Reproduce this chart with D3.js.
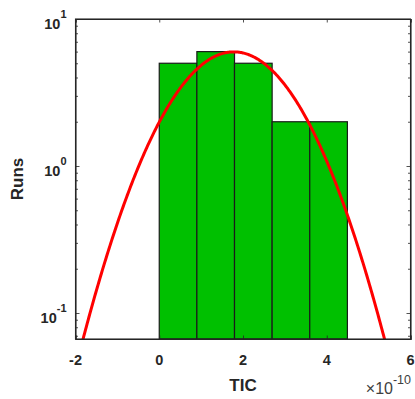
<!DOCTYPE html>
<html>
<head>
<meta charset="utf-8">
<script src="https://cdn.jsdelivr.net/npm/d3@7"></script>
<style>
  html, body { margin: 0; padding: 0; background: #ffffff; }
  svg { display: block; }
  text { font-family: "Liberation Sans", Arial, Helvetica, sans-serif; }
</style>
</head>
<body>
<svg id="chart" width="415" height="399"></svg>
<script>
// ---- data (x values in units of 1e-10) ----
const binEdges = [0.0, 0.8986, 1.7972, 2.6958, 3.5944, 4.4930];
const binCounts = [5, 6, 5, 2, 2];
const fitMean = 1.78;    // normal fit mean (x 1e-10)
const fitSigma = 1.20;   // normal fit std  (x 1e-10)
const xTicks = [-2, 0, 2, 4, 6];
const yMajorTicks = [0.1, 1, 10];
const yTickExponents = ["-1", "0", "1"];
const xLabel = "TIC";
const yLabel = "Runs";
const xExponentLabel = "-10";

const W = 415, H = 399;
const margin = { left: 75.5, right: 4.5, top: 19, bottom: 60 };
const svg = d3.select("#chart");

const x = d3.scaleLinear().domain([-2, 6]).range([margin.left, W - margin.right]);
const yMin = Math.pow(10, -1 - (339 - 313) / 147);
const y = d3.scaleLog().domain([yMin, 10]).range([H - margin.bottom, margin.top]);

const axisColor = "#262626";
const px0 = x.range()[0], px1 = x.range()[1];
const py0 = y.range()[0], py1 = y.range()[1];

svg.append("defs").append("clipPath").attr("id", "plotclip")
  .append("rect").attr("x", px0).attr("y", py1).attr("width", px1 - px0).attr("height", py0 - py1);

// ---- bars ----
const bars = binCounts.map((c, i) => ({ x0: binEdges[i], x1: binEdges[i + 1], c }));
svg.append("g").attr("clip-path", "url(#plotclip)")
  .selectAll("rect").data(bars).join("rect")
  .attr("x", d => x(d.x0))
  .attr("y", d => y(d.c))
  .attr("width", d => x(d.x1) - x(d.x0))
  .attr("height", d => py0 - y(d.c))
  .attr("fill", "#00c000")
  .attr("stroke", "#1a1a1a")
  .attr("stroke-width", 1.2);

// ---- fitted normal curve (histfit style: scaled by n * bin width) ----
const n = d3.sum(binCounts);
const bw = binEdges[1] - binEdges[0];
const xsCurve = d3.range(-2, 6.0001, 0.02);
const curve = xsCurve.map(v => [v, n * bw * Math.exp(-0.5 * ((v - fitMean) / fitSigma) ** 2) / (fitSigma * Math.sqrt(2 * Math.PI))]);
svg.append("g").attr("clip-path", "url(#plotclip)")
  .append("path")
  .datum(curve.filter(d => d[1] > yMin * 0.3))
  .attr("d", d3.line().x(d => x(d[0])).y(d => y(Math.max(d[1], yMin * 0.3))))
  .attr("fill", "none")
  .attr("stroke", "#ff0000")
  .attr("stroke-width", 3);

// ---- axes ----
const gx = svg.append("g").attr("transform", `translate(0,${py0})`)
  .call(d3.axisBottom(x).tickValues(xTicks).tickSize(-3.5).tickFormat(""));
const gxTop = svg.append("g").attr("transform", `translate(0,${py1})`)
  .call(d3.axisTop(x).tickValues(xTicks).tickSize(-3.5).tickFormat(""));

const minorY = [];
[0.1, 1].forEach(dec => { for (let k = 2; k <= 9; k++) minorY.push(dec * k); });
minorY.push(0.07, 0.08, 0.09);
const minorYIn = minorY.filter(v => v >= yMin && v <= 10);

const gy = svg.append("g").attr("transform", `translate(${px0},0)`)
  .call(d3.axisLeft(y).tickValues(yMajorTicks).tickSize(-4).tickFormat(""));
const gyMinor = svg.append("g").attr("transform", `translate(${px0},0)`)
  .call(d3.axisLeft(y).tickValues(minorYIn).tickSize(-2.5).tickFormat(""));
const gyR = svg.append("g").attr("transform", `translate(${px1},0)`)
  .call(d3.axisRight(y).tickValues(yMajorTicks).tickSize(-4).tickFormat(""));
const gyRMinor = svg.append("g").attr("transform", `translate(${px1},0)`)
  .call(d3.axisRight(y).tickValues(minorYIn).tickSize(-2.5).tickFormat(""));

[gx, gxTop, gy, gyMinor, gyR, gyRMinor].forEach(g => {
  g.select(".domain").attr("stroke", axisColor).attr("stroke-width", 1.1);
  g.selectAll(".tick line").attr("stroke", axisColor).attr("stroke-width", 0.8);
});
[gyMinor, gyRMinor].forEach(g => g.select(".domain").remove());

// full box
svg.append("rect").attr("x", px0).attr("y", py1).attr("width", px1 - px0).attr("height", py0 - py1)
  .attr("fill", "none").attr("stroke", axisColor).attr("stroke-width", 1.1);

// ---- tick labels ----
const labColor = "#262626";
svg.append("g").selectAll("text").data(xTicks).join("text")
  .attr("x", d => x(d))
  .attr("y", py0 + 26)
  .attr("text-anchor", "middle")
  .attr("font-size", 14.5)
  .attr("font-weight", "bold")
  .attr("fill", labColor)
  .text(d => d);

const yl = svg.append("g").selectAll("text").data(yMajorTicks).join("text")
  .attr("x", px0 - 9)
  .attr("y", d => y(d) + 10)
  .attr("text-anchor", "end")
  .attr("font-size", 14.5)
  .attr("font-weight", "bold")
  .attr("fill", labColor);
yl.append("tspan").text("10");
yl.append("tspan").attr("dy", -11).attr("font-size", 11).text((d, i) => yTickExponents[i]);

// ---- axis titles ----
svg.append("text")
  .attr("x", x(2))
  .attr("y", 391)
  .attr("text-anchor", "middle")
  .attr("font-size", 17)
  .attr("font-weight", "bold")
  .attr("fill", labColor)
  .text(xLabel);

svg.append("text")
  .attr("transform", `translate(23,${(py0 + py1) / 2}) rotate(-90)`)
  .attr("text-anchor", "middle")
  .attr("font-size", 17)
  .attr("font-weight", "bold")
  .attr("fill", labColor)
  .text(yLabel);

const ex = svg.append("text")
  .attr("x", px1 + 0.5)
  .attr("y", 394)
  .attr("text-anchor", "end")
  .attr("font-size", 16)
  .attr("fill", "#404040");
ex.append("tspan").text("\u00d710");
ex.append("tspan").attr("dy", -10).attr("font-size", 12.5).text(xExponentLabel);
</script>
</body>
</html>
